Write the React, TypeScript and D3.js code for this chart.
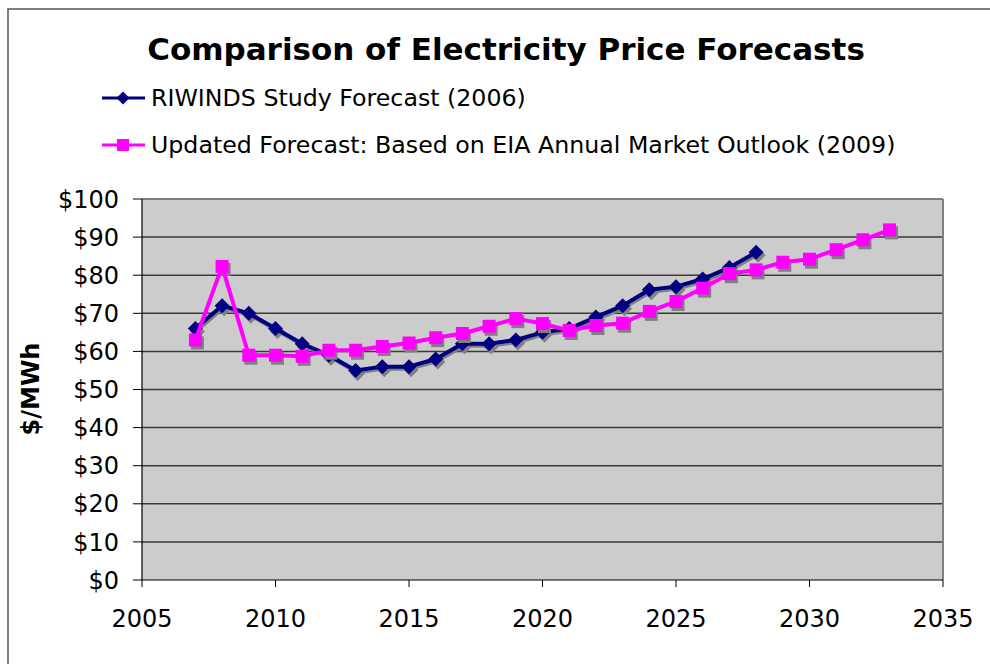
import React from "react";
import * as d3 from "d3";

const title = "Comparison of Electricity Price Forecasts";
const seriesNames = ["RIWINDS Study Forecast (2006)", "Updated Forecast: Based on EIA Annual Market Outlook (2009)"];

const riwindsYears = [2007, 2008, 2009, 2010, 2011, 2012, 2013, 2014, 2015, 2016, 2017, 2018, 2019, 2020, 2021, 2022, 2023, 2024, 2025, 2026, 2027, 2028];
const riwindsValues = [66, 72, 70, 66, 62, 59, 55, 56, 56, 58, 62, 62, 63, 65, 66, 69, 72, 76.2, 77, 79, 82, 86];

const updatedYears = [2007, 2008, 2009, 2010, 2011, 2012, 2013, 2014, 2015, 2016, 2017, 2018, 2019, 2020, 2021, 2022, 2023, 2024, 2025, 2026, 2027, 2028, 2029, 2030, 2031, 2032, 2033];
const updatedValues = [63, 82.3, 59, 59, 58.7, 60.3, 60.3, 61.3, 62.2, 63.6, 64.7, 66.6, 68.6, 67.3, 65.5, 66.8, 67.4, 70.5, 73.1, 76.6, 80.4, 81.4, 83.4, 84.2, 86.7, 89.3, 91.9];

const xTicks = [2005, 2010, 2015, 2020, 2025, 2030, 2035];
const yTicks = [0, 10, 20, 30, 40, 50, 60, 70, 80, 90, 100];
const yLabel = "$/MWh";

const W = 990;
const H = 664;
const FONT = "Verdana, 'DejaVu Sans', sans-serif";
const BLUE = "#000080";
const PINK = "#FF00FF";
const SHADOW = "#808080";

export default function App() {
  const x = d3.scaleLinear().domain([2005, 2035]).range([142, 943]);
  const y = d3.scaleLinear().domain([0, 100]).range([580, 199]);

  const blue = riwindsYears.map((yr, i) => [yr, riwindsValues[i]] as [number, number]);
  const pink = updatedYears.map((yr, i) => [yr, updatedValues[i]] as [number, number]);
  const line = d3.line<[number, number]>().x((d) => x(d[0])).y((d) => y(d[1]));

  const diamond = (cx: number, cy: number, r: number) =>
    `M${cx},${cy - r}L${cx + r},${cy}L${cx},${cy + r}L${cx - r},${cy}Z`;
  const SQ = 13;
  const DR = 7.5;

  return (
    <svg width={W} height={H} style={{ position: "absolute", left: 0, top: 0, background: "#fff" }}>
      {/* outer frame */}
      <rect x={8} y={9} width={W + 20} height={H + 20} fill="#fff" stroke="#555" strokeWidth={1.5} />

      {/* title */}
      <text x={506} y={60} textAnchor="middle" fontFamily={FONT} fontWeight="bold" fontSize={31} fill="#000">
        {title}
      </text>

      {/* legend */}
      <g>
        <line x1={102} x2={145} y1={98} y2={98} stroke={BLUE} strokeWidth={3} />
        <path d={diamond(123, 98, 6.5)} fill={BLUE} />
        <text x={151} y={106} fontFamily={FONT} fontSize={23.7} fill="#000">{seriesNames[0]}</text>
        <line x1={102} x2={145} y1={145} y2={145} stroke={PINK} strokeWidth={3} />
        <rect x={123 - 6} y={145 - 6} width={12} height={12} fill={PINK} />
        <text x={151} y={153} fontFamily={FONT} fontSize={23.7} fill="#000">{seriesNames[1]}</text>
      </g>

      {/* plot area */}
      <rect x={x(2005)} y={y(100)} width={x(2035) - x(2005)} height={y(0) - y(100)} fill="#CCCCCC" />
      {yTicks.map((t) => (
        <g key={t}>
          {t > 0 && t < 100 && (
            <line x1={x(2005)} x2={x(2035)} y1={y(t)} y2={y(t)} stroke="#3a3a3a" strokeWidth={1.5} />
          )}
          <line x1={133} x2={x(2005)} y1={y(t)} y2={y(t)} stroke="#000" strokeWidth={1} />
          <text x={119} y={y(t)} dy="0.36em" textAnchor="end" fontFamily={FONT} fontSize={24} fill="#000">
            {"$" + t}
          </text>
        </g>
      ))}
      {/* top and right border */}
      <line x1={x(2005)} x2={x(2035)} y1={y(100)} y2={y(100)} stroke="#808080" strokeWidth={2} />
      <line x1={x(2035)} x2={x(2035)} y1={y(100)} y2={y(0)} stroke="#808080" strokeWidth={2} />
      {/* axes */}
      <line x1={x(2005)} x2={x(2005)} y1={y(100)} y2={y(0)} stroke="#000" strokeWidth={1.2} />
      <line x1={x(2005)} x2={x(2035)} y1={y(0)} y2={y(0)} stroke="#000" strokeWidth={1.2} />
      {xTicks.map((t) => (
        <g key={t}>
          <line x1={x(t)} x2={x(t)} y1={y(0)} y2={y(0) + 7} stroke="#000" strokeWidth={1} />
          <text x={x(t)} y={627} textAnchor="middle" fontFamily={FONT} fontSize={24} fill="#000">
            {t}
          </text>
        </g>
      ))}

      {/* y label */}
      <text
        transform={`translate(39,389) rotate(-90)`}
        textAnchor="middle"
        fontFamily={FONT}
        fontWeight="bold"
        fontSize={24}
        fill="#000"
      >
        {yLabel}
      </text>

      {/* RIWINDS series */}
      <path d={line(blue) || ""} fill="none" stroke={SHADOW} strokeWidth={3} transform="translate(1.5,2.5)" strokeLinejoin="round" />
      {blue.map((d, i) => (
        <path key={"bs" + i} d={diamond(x(d[0]) + 2, y(d[1]) + 3, DR)} fill={SHADOW} />
      ))}
      <path d={line(blue) || ""} fill="none" stroke={BLUE} strokeWidth={4} strokeLinejoin="round" />
      {blue.map((d, i) => (
        <path key={"b" + i} d={diamond(x(d[0]), y(d[1]), DR)} fill={BLUE} />
      ))}

      {/* Updated series */}
      {pink.map((d, i) => (
        <rect key={"ps" + i} x={x(d[0]) - SQ / 2 + 2} y={y(d[1]) - SQ / 2 + 3} width={SQ} height={SQ} fill={SHADOW} />
      ))}
      <path d={line(pink) || ""} fill="none" stroke={PINK} strokeWidth={4} strokeLinejoin="round" />
      {pink.map((d, i) => (
        <rect key={"p" + i} x={x(d[0]) - SQ / 2} y={y(d[1]) - SQ / 2} width={SQ} height={SQ} fill={PINK} />
      ))}
    </svg>
  );
}
